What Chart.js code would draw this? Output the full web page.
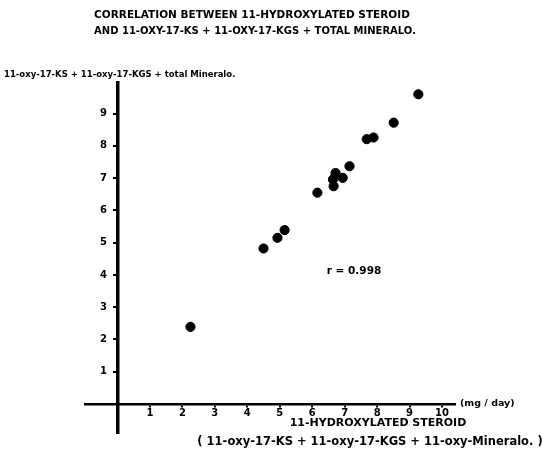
<!DOCTYPE html>
<html>
<head>
<meta charset="utf-8">
<script src="https://cdn.jsdelivr.net/npm/chart.js@4.4.1/dist/chart.umd.min.js"></script>
<style>
html,body{margin:0;padding:0;background:#fff;}
canvas{display:block;}
</style>
</head>
<body>
<canvas id="c" width="543" height="463"></canvas>
<script>
// Data
const xValues = [9.27, 8.51, 7.68, 7.89, 7.15, 6.72, 6.94, 6.64, 6.66, 6.16, 5.15, 4.93, 4.50, 2.25];
const yValues = [9.60, 8.72, 8.21, 8.26, 7.37, 7.16, 7.01, 6.96, 6.75, 6.55, 5.39, 5.15, 4.82, 2.39];
const xTickValues = [1, 2, 3, 4, 5, 6, 7, 8, 9, 10];
const yTickValues = [1, 2, 3, 4, 5, 6, 7, 8, 9];
const titleLines = ["CORRELATION BETWEEN 11-HYDROXYLATED STEROID", "AND 11-OXY-17-KS + 11-OXY-17-KGS + TOTAL MINERALO."];
const yAxisLabel = "11-oxy-17-KS + 11-oxy-17-KGS + total Mineralo.";
const xUnitLabel = "(mg / day)";
const xAxisLabel1 = "11-HYDROXYLATED STEROID";
const xAxisLabel2 = "( 11-oxy-17-KS + 11-oxy-17-KGS + 11-oxy-Mineralo. )";
const rLabel = "r = 0.998";

const points = xValues.map((x, i) => ({x: x, y: yValues[i]}));
const FONT = "'DejaVu Sans', sans-serif";

const textPlugin = {
  id: 'texts',
  afterDraw(chart) {
    const ctx = chart.ctx;
    const ys = chart.scales.y;
    ctx.save();
    ctx.fillStyle = '#000';
    ctx.textBaseline = 'middle';
    ctx.textAlign = 'center';
    ctx.font = "bold 10.5px " + FONT;
    ctx.fillText(titleLines[0], 252, 15);
    ctx.font = "bold 10px " + FONT;
    ctx.fillText(titleLines[1], 255, 31);
    ctx.textAlign = 'left';
    ctx.font = "bold 8.5px " + FONT;
    ctx.fillText(yAxisLabel, 4, 75);
    ctx.font = "bold 9.5px " + FONT;
    ctx.fillText(xUnitLabel, 460, ys.getPixelForValue(0));
    ctx.textAlign = 'center';
    ctx.font = "bold 11px " + FONT;
    ctx.fillText(xAxisLabel1, 378, 423);
    ctx.font = "bold 11.5px " + FONT;
    ctx.fillText(xAxisLabel2, 370, 442);
    ctx.font = "bold 10.5px " + FONT;
    ctx.fillText(rLabel, 354, 271);
    ctx.restore();
  }
};

new Chart(document.getElementById('c'), {
  type: 'scatter',
  data: {
    datasets: [{
      data: points,
      backgroundColor: '#000',
      borderColor: '#000',
      pointRadius: 4.6,
      pointHoverRadius: 4.6
    }]
  },
  options: {
    responsive: false,
    animation: false,
    events: [],
    layout: {padding: {left: 85, right: 88, top: 83, bottom: 30}},
    plugins: {legend: {display: false}, title: {display: false}, tooltip: {enabled: false}},
    scales: {
      x: {
        type: 'linear',
        min: -1,
        max: 10.4,
        position: {y: 0},
        afterBuildTicks: (s) => { s.ticks = xTickValues.map(v => ({value: v})); },
        grid: {drawOnChartArea: false, drawTicks: true, tickLength: 2, color: '#000', lineWidth: 2},
        border: {display: true, color: '#000', width: 2.5},
        ticks: {color: '#000', font: {family: FONT, size: 10, weight: 'bold'}, padding: 1, maxRotation: 0, autoSkip: false}
      },
      y: {
        type: 'linear',
        min: -0.9,
        max: 9.95,
        position: {x: 0},
        afterBuildTicks: (s) => { s.ticks = yTickValues.map(v => ({value: v})); },
        grid: {drawOnChartArea: false, drawTicks: true, tickLength: 3, color: '#000', lineWidth: 2},
        border: {display: true, color: '#000', width: 3.5},
        ticks: {color: '#000', font: {family: FONT, size: 10, weight: 'bold'}, autoSkip: false,
                callback: (v) => String(v) + '   '}
      }
    }
  },
  plugins: [textPlugin]
});
</script>
</body>
</html>
